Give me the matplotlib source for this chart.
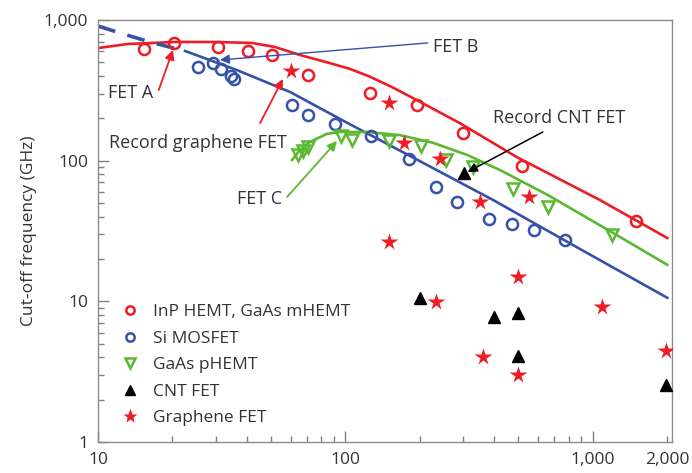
import matplotlib
matplotlib.use('Agg')
import matplotlib.pyplot as plt
from matplotlib.ticker import FixedLocator, FuncFormatter, NullFormatter

plt.rcParams['font.family'] = ['Open Sans', 'DejaVu Sans']
plt.rcParams['font.size'] = 12

RED = '#ee1c25'
BLUE = '#3452a8'
GREEN = '#5bb831'
TXT = '#333333'

# measured devices (gate length in nm, cut-off frequency in GHz)
inp_x = [15.3, 20.3, 30.5, 40.4, 50.5, 70.5, 126, 194, 299, 516, 1490]
inp_y = [622, 687, 643, 602, 564, 406, 303, 249, 157, 91.6, 37.2]

si_x = [25.4, 29.2, 31.4, 34.5, 35.4, 60.8, 70.5, 90.8, 127, 181, 232, 282, 380, 471, 578, 771]
si_y = [463, 494, 449, 400, 381, 249, 211, 182, 150, 103, 65, 50.8, 38.5, 35.5, 32.1, 27.3]

gaas_x = [64.3, 67.3, 70.5, 95.9, 106, 150, 202, 255, 327, 475, 658, 1194]
gaas_y = [110, 117, 125, 150, 140, 138, 127, 101, 90.2, 63, 46.9, 29.6]

cnt_x = [301, 200, 398, 498, 498, 1972]
cnt_y = [81.8, 10.6, 7.74, 8.28, 4.09, 2.55]

gr_x = [60.3, 150, 172, 241, 349, 551, 150, 498, 232, 1087, 360, 498, 1972]
gr_y = [434, 257, 134, 103, 50.8, 55.2, 26.4, 14.9, 9.9, 9.1, 4.03, 3.0, 4.43]

# trend curves
inp_fit_x = [10, 13.2, 20.5, 29.7, 41.9, 51.9, 65.5, 86.5, 104, 125, 153, 194, 290, 493, 1067, 2000]
inp_fit_y = [632, 675, 698, 698, 687, 643, 564, 494, 450, 397, 336, 270, 185, 106, 52.6, 28.2]

si_fit_x = [10, 12.3, 16.2, 22.5, 36.4, 59.7, 104, 174, 395, 886, 2000]
si_fit_y = [906, 808, 698, 602, 441, 308, 182, 113, 52.6, 23.6, 10.6]

gaas_fit_x = [60.8, 65.5, 71.9, 84.1, 95, 122, 166, 226, 310, 421, 658, 1194, 2000]
gaas_fit_y = [101, 119, 136, 155, 160, 160, 152, 134, 110, 85.9, 57, 31, 18.2]

fig = plt.figure(figsize=(6.92, 4.73), dpi=100)
ax = fig.add_axes([0.1416, 0.0655, 0.8295, 0.8922])
ax.set_xscale('log')
ax.set_yscale('log')
ax.set_xlim(10, 2090)
ax.set_ylim(1, 1000)

ax.plot(inp_fit_x, inp_fit_y, color=RED, lw=1.9, zorder=2)
ax.plot(si_fit_x[:4], si_fit_y[:4], color=BLUE, lw=2.6, ls=(0, (5, 3.5)), zorder=2)
ax.plot(si_fit_x[3:], si_fit_y[3:], color=BLUE, lw=1.9, zorder=2)
ax.plot(gaas_fit_x, gaas_fit_y, color=GREEN, lw=1.9, zorder=2)

ax.plot(inp_x, inp_y, 'o', ms=8, mfc='none', mec=RED, mew=1.8, zorder=3)
ax.plot(si_x, si_y, 'o', ms=8, mfc='none', mec=BLUE, mew=1.8, zorder=3)
ax.plot(gaas_x, gaas_y, 'v', ms=8.5, mfc='none', mec=GREEN, mew=1.8, zorder=3)
ax.plot(cnt_x, cnt_y, '^', ms=9, color='black', zorder=3)
ax.plot(gr_x, gr_y, '*', ms=13, color=RED, mec='none', zorder=3)

# legend entries
h1, = ax.plot([], [], 'o', ms=6, mfc='none', mec=RED, mew=1.8)
h2, = ax.plot([], [], 'o', ms=6, mfc='none', mec=BLUE, mew=1.8)
h3, = ax.plot([], [], 'v', ms=7, mfc='none', mec=GREEN, mew=1.8)
h4, = ax.plot([], [], '^', ms=7, color='black')
h5, = ax.plot([], [], '*', ms=11, color=RED, mec='none')
leg = ax.legend([h1, h2, h3, h4, h5],
                ['InP HEMT, GaAs mHEMT', 'Si MOSFET', 'GaAs pHEMT', 'CNT FET', 'Graphene FET'],
                loc='lower left', bbox_to_anchor=(0.013, 0.0), frameon=False,
                handlelength=1.0, handletextpad=0.85, labelspacing=0.6, fontsize=12.5)
for t in leg.get_texts():
    t.set_color(TXT)


def arrow(tip, start, color, lw=1.3):
    ax.annotate('', xy=tip, xytext=start,
                arrowprops=dict(arrowstyle='-|>', color=color, lw=lw,
                                mutation_scale=14, shrinkA=0, shrinkB=0),
                zorder=4)


arrow((20.1, 612), (17.6, 318), RED)
arrow((31.1, 520), (215, 687), BLUE, lw=1.0)
arrow((55.9, 381), (45.2, 185), RED)
arrow((92.5, 138), (58.1, 55.2), GREEN)
arrow((312, 83.2), (628, 160), 'black', lw=1.1)

ax.text(11.0, 303, 'FET A', color=TXT, fontsize=13, va='center', ha='left')
ax.text(226, 643, 'FET B', color=TXT, fontsize=13, va='center', ha='left')
ax.text(11.1, 134, 'Record graphene FET', color=TXT, fontsize=13, va='center', ha='left')
ax.text(36.4, 53.5, 'FET C', color=TXT, fontsize=13, va='center', ha='left')
ax.text(395, 201, 'Record CNT FET', color=TXT, fontsize=13, va='center', ha='left')

comma = FuncFormatter(lambda v, p: f'{v:,.0f}')
ax.xaxis.set_major_locator(FixedLocator([10, 100, 1000]))
ax.xaxis.set_major_formatter(comma)
x_minor = [20, 30, 40, 50, 60, 70, 80, 90, 200, 300, 400, 500, 600, 700, 800, 900, 2000]
ax.xaxis.set_minor_locator(FixedLocator(x_minor))
ax.xaxis.set_minor_formatter(FuncFormatter(lambda v, p: '2,000' if abs(v - 2000) < 1 else ''))
ax.yaxis.set_major_locator(FixedLocator([1, 10, 100, 1000]))
ax.yaxis.set_major_formatter(comma)
ax.yaxis.set_minor_locator(FixedLocator([m * d for d in (1, 10, 100) for m in range(2, 10)]))
ax.yaxis.set_minor_formatter(NullFormatter())

ax.tick_params(which='both', direction='in', colors='#808080', labelcolor=TXT,
               top=False, right=False, labelsize=12.5)
ax.tick_params(which='major', length=8, width=1)
ax.tick_params(which='minor', length=4, width=1)
ax.tick_params(axis='x', which='both', pad=7)
ax.tick_params(axis='y', which='both', pad=7)
for s in ax.spines.values():
    s.set_color('#8c8c8c')
    s.set_linewidth(1)

ax.set_ylabel('Cut-off frequency (GHz)', color=TXT, fontsize=12.5, labelpad=5)

fig.savefig('out.png', dpi=100)
